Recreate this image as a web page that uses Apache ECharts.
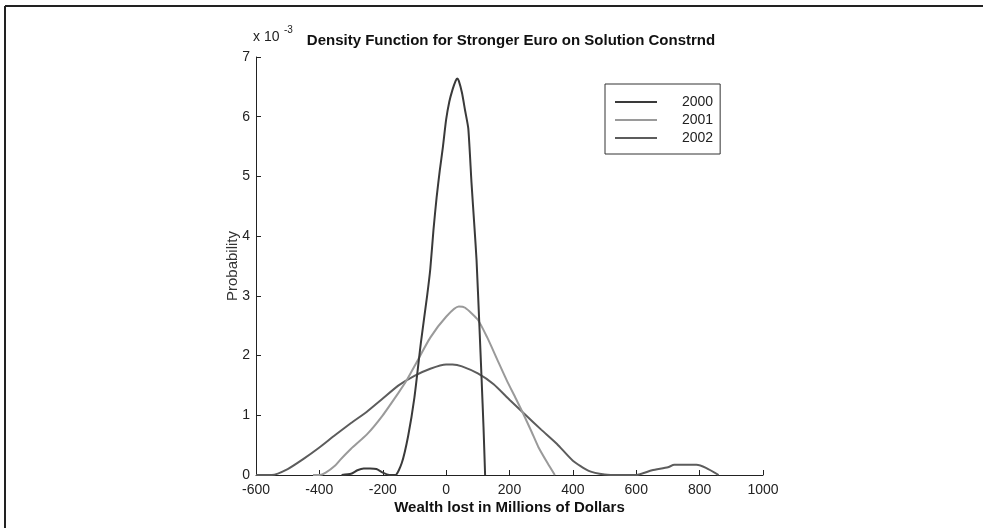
<!DOCTYPE html>
<html>
<head>
<meta charset="utf-8">
<script src="https://cdn.jsdelivr.net/npm/echarts@6/dist/echarts.min.js"></script>
<style>html,body{margin:0;padding:0;background:#fff}#c{width:983px;height:528px}</style>
</head>
<body>
<div id="c"></div>
<script>
// Values are in units of 10^-3
const seriesNames = ['2000', '2001', '2002'];
const x2000 = [-330, -300, -280, -260, -240, -220, -200, -180, -160, -140, -120, -100, -80, -60, -50, -40, -30, -20, -10, 0, 10, 20, 30, 35, 40, 50, 60, 70, 80, 90, 96, 105, 112, 118, 123];
const y2000 = [0, 0.02, 0.08, 0.11, 0.11, 0.1, 0.04, 0, 0, 0.2, 0.65, 1.3, 2.2, 3.0, 3.45, 4.1, 4.65, 5.1, 5.5, 5.95, 6.25, 6.45, 6.6, 6.64, 6.6, 6.4, 6.1, 5.8, 4.9, 4.1, 3.6, 2.5, 1.6, 0.8, 0];
const x2001 = [-420, -400, -380, -350, -335, -300, -250, -200, -150, -124, -100, -50, 0, 40, 60, 100, 130, 160, 191, 220, 243, 270, 291, 320, 343];
const y2001 = [0, 0, 0.04, 0.16, 0.25, 0.44, 0.68, 1.0, 1.38, 1.59, 1.82, 2.3, 2.65, 2.82, 2.8, 2.6, 2.3, 1.95, 1.59, 1.28, 1.03, 0.72, 0.47, 0.2, 0];
const x2002 = [-600, -550, -500, -450, -400, -350, -300, -250, -200, -150, -100, -50, 0, 20, 50, 100, 150, 200, 250, 300, 350, 400, 450, 500, 550, 600, 650, 700, 720, 790, 820, 860];
const y2002 = [0, 0, 0.1, 0.27, 0.46, 0.67, 0.87, 1.06, 1.28, 1.5, 1.66, 1.78, 1.85, 1.85, 1.82, 1.7, 1.52, 1.26, 1.01, 0.76, 0.52, 0.24, 0.07, 0.01, 0, 0, 0.08, 0.13, 0.17, 0.17, 0.12, 0];
const xTicks = [-600, -400, -200, 0, 200, 400, 600, 800, 1000];
const yTicks = [0, 1, 2, 3, 4, 5, 6, 7];
const colors = ['#3a3a3a', '#9a9a9a', '#5c5c5c'];

const xs = [x2000, x2001, x2002];
const ys = [y2000, y2001, y2002];
const FONT = 'Liberation Sans, Arial, Helvetica, sans-serif';

const chart = echarts.init(document.getElementById('c'), null, {renderer: 'canvas'});
chart.setOption({
  backgroundColor: '#fff',
  animation: false,
  title: {
    text: 'Density Function for Stronger Euro on Solution Constrnd',
    left: 506, top: 28, textAlign: 'center',
    textStyle: {fontFamily: FONT, fontSize: 15, fontWeight: 'bold', color: '#111'}
  },
  graphic: [
    {type: 'line', shape: {x1: 5, y1: 6, x2: 983, y2: 6}, style: {stroke: '#222', lineWidth: 2}},
    {type: 'line', shape: {x1: 5, y1: 6, x2: 5, y2: 528}, style: {stroke: '#222', lineWidth: 2}},
    {type: 'text', left: 253, top: 30, style: {text: 'x 10', font: '14px ' + FONT, fill: '#222'}},
    {type: 'text', left: 284, top: 25, style: {text: '-3', font: '10px ' + FONT, fill: '#222'}}
  ],
  legend: {
    data: seriesNames,
    orient: 'vertical',
    left: 605, top: 84,
    padding: [11, 7, 9, 10],
    itemGap: 4,
    itemWidth: 42, itemHeight: 2,
    icon: 'rect',
    borderColor: '#333', borderWidth: 1,
    textStyle: {fontFamily: FONT, fontSize: 14, color: '#222', padding: [0, 0, 0, 20]}
  },
  grid: {left: 256, top: 57, right: 220, bottom: 53},
  xAxis: {
    type: 'value', min: xTicks[0], max: xTicks[xTicks.length - 1], interval: 200,
    name: 'Wealth lost in Millions of Dollars', nameLocation: 'middle', nameGap: 25,
    nameMoveOverlap: false,
    nameTextStyle: {fontFamily: FONT, fontSize: 15, fontWeight: 'bold', color: '#111'},
    axisLine: {show: true, onZero: false, lineStyle: {color: '#222', width: 1}},
    axisTick: {show: true, inside: true, length: 5, lineStyle: {color: '#222'}},
    axisLabel: {fontFamily: FONT, fontSize: 14, color: '#222', margin: 8, formatter: v => String(v)},
    splitLine: {show: false}
  },
  yAxis: {
    type: 'value', min: yTicks[0], max: yTicks[yTicks.length - 1], interval: 1,
    name: 'Probability', nameLocation: 'middle', nameGap: 16,
    nameMoveOverlap: false,
    nameTextStyle: {fontFamily: FONT, fontSize: 15, color: '#333'},
    axisLine: {show: true, onZero: false, lineStyle: {color: '#222', width: 1}},
    axisTick: {show: true, inside: true, length: 5, lineStyle: {color: '#222'}},
    axisLabel: {fontFamily: FONT, fontSize: 14, color: '#222', margin: 6, formatter: v => String(v)},
    splitLine: {show: false}
  },
  series: seriesNames.map((n, i) => ({
    name: n, type: 'line', showSymbol: false, symbol: 'none',
    smooth: 0.2,
    data: xs[i].map((x, j) => [x, ys[i][j]]),
    lineStyle: {color: colors[i], width: 2},
    itemStyle: {color: colors[i]},
    z: 3 - i
  }))
});
</script>
</body>
</html>
